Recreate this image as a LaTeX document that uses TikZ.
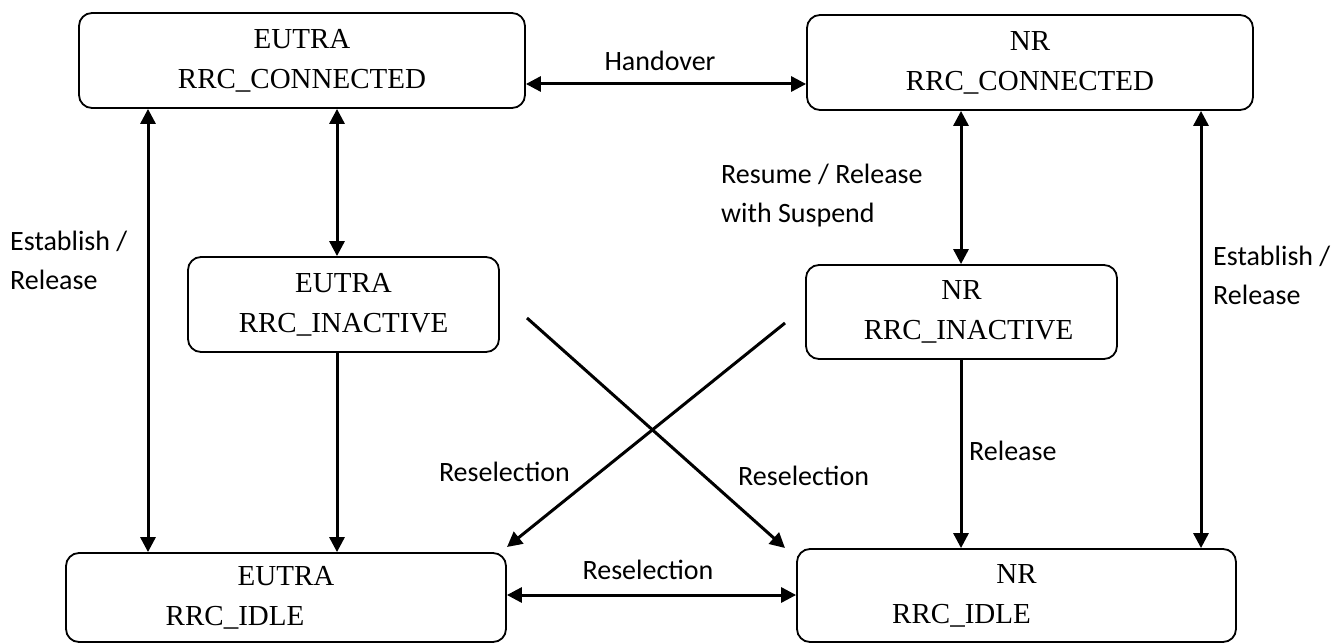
\documentclass[tikz,border=0pt]{standalone}
\usepackage{fontspec}
\setmainfont{Liberation Serif}
\newfontfamily\labelfont{Carlito}
\usetikzlibrary{arrows.meta}
\tikzset{
  % rounded boxes for the RRC states
  state/.style={
    draw,line width=1.8pt,rounded corners=13pt,
    inner sep=0pt,align=center,
    font=\fontsize{29}{40}\selectfont,
  },
  % transitions, one or two heads
  trans/.style={line width=3pt,-{Triangle[length=15pt,width=15pt]}},
  both/.style={line width=3pt,{Triangle[length=15pt,width=15pt]}-{Triangle[length=15pt,width=15pt]}},
  % texts beside the transitions
  lbl/.style={inner sep=0pt,align=left,font=\labelfont\fontsize{28}{39}\selectfont},
}

\begin{document}
\begin{tikzpicture}[x=1pt,y=-1pt]
  \useasboundingbox (0,0) rectangle (1340,644);

  % states
  \node[state,minimum width=446pt,minimum height=95pt] (econn) at (302,60.5) {EUTRA\\RRC\_CONNECTED};
  \node[state,minimum width=446pt,minimum height=95pt] (nconn) at (1030,62.5) {NR\\RRC\_CONNECTED};
  \node[state,minimum width=311pt,minimum height=95pt] (einact) at (343.5,304.5) {EUTRA\\RRC\_INACTIVE};
  \node[state,minimum width=311pt,minimum height=94pt] (ninact) at (961.5,312) {NR\\\hspace*{14pt}RRC\_INACTIVE};
  \node[state,minimum width=440pt,minimum height=89pt] (eidle) at (286,597.5) {EUTRA\\RRC\_IDLE\hspace*{102pt}};
  \node[state,minimum width=439pt,minimum height=93pt] (nidle) at (1016.5,595.5) {NR\\RRC\_IDLE\hspace*{110pt}};

  % free ends of the crossing lines
  \coordinate (xa) at (527,318);
  \coordinate (xb) at (785,548);
  \coordinate (ya) at (785,323);
  \coordinate (yb) at (507,547);

  % transitions
  \draw[both] (econn.east |- 0,84) -- (nconn.west |- 0,84);
  \draw[both] (econn.south -| 148,0) -- (eidle.north -| 148,0);
  \draw[both] (econn.south -| 337,0) -- (einact.north -| 337,0);
  \draw[trans] (einact.south -| 337,0) -- (eidle.north -| 337,0);
  \draw[both] (nconn.south -| 961,0) -- (ninact.north -| 961,0);
  \draw[trans] (ninact.south -| 961,0) -- (nidle.north -| 961,0);
  \draw[both] (nconn.south -| 1201,0) -- (nidle.north -| 1201,0);
  \draw[trans] (xa) -- (xb);
  \draw[trans] (ya) -- (yb);
  \draw[both] (eidle.east |- 0,595) -- (nidle.west |- 0,595);

  % labels
  \node[lbl] (hand) at (660,61) {Handover};
  \node[lbl,anchor=west] (estl) at (10,260) {Establish /\\Release};
  \node[lbl,anchor=west] (estr) at (1213,275) {Establish /\\Release};
  \node[lbl,anchor=west] (resume) at (721,196) {Resume / Release\\with Suspend};
  \node[lbl,anchor=west] (rel) at (969,451) {Release};
  \node[lbl,anchor=east] (resl) at (570,472) {Reselection};
  \node[lbl,anchor=west] (resr) at (738,476) {Reselection};
  \node[lbl] (resb) at (648,570) {Reselection};
\end{tikzpicture}
\end{document}
